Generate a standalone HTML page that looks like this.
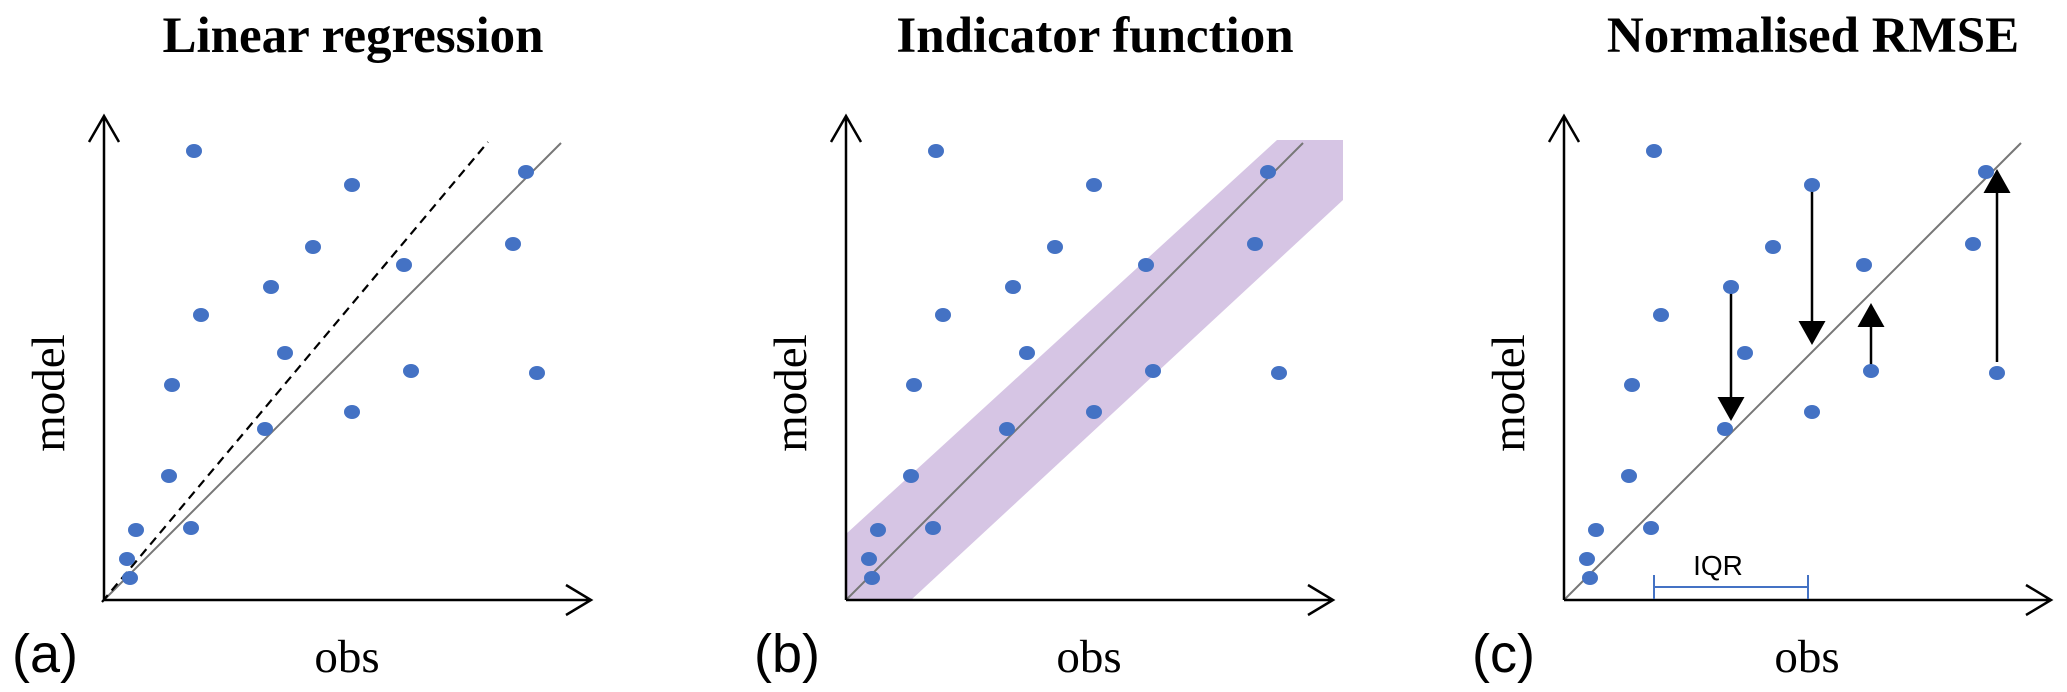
<!DOCTYPE html>
<html><head><meta charset="utf-8"><style>
html,body{margin:0;padding:0;background:#fff;}
svg{display:block;}
.title{font-family:"Liberation Serif",serif;font-weight:bold;font-size:51px;text-anchor:middle;}
.lab{font-family:"Liberation Serif",serif;font-size:47px;text-anchor:middle;}
.plab{font-family:"Liberation Sans",sans-serif;font-size:54px;}
</style></head><body>
<svg id="fig" width="2067" height="692" viewBox="0 0 2067 692" xmlns="http://www.w3.org/2000/svg"></svg>
<script>
const obsValues = [90,248,422,209,300,409,167,97,181,307,433,68,248,161,65,87,32,23,26];
const modelValues = [449,415,428,353,335,356,313,285,247,229,227,215,188,171,124,72,70,41,22];
const panelTitles = ["Linear regression","Indicator function","Normalised RMSE"];
const panelLetters = ["(a)","(b)","(c)"];
const regressionLine = [[-2,-2],[384,458]];
const bandPoly = [[0,0],[0,66],[431,460],[497,460],[497,400],[65,0]];
const iqrRange = [90,244];
const arrowFrom = [[167,309],[248,411],[307,233],[433,238]];
const arrowTo = [[167,179],[248,255],[307,297],[433,431]];

const NS="http://www.w3.org/2000/svg";
const svg=document.getElementById('fig');
const origins=[[104,600],[846,600],[1564,600]];
function mk(tag,attrs,parent){const e=document.createElementNS(NS,tag);for(const k in attrs)e.setAttribute(k,attrs[k]);(parent||svg).appendChild(e);return e;}
function sx(o,v){return o[0]+v;}
function sy(o,v){return o[1]-v;}
const names=["linear-regression","indicator-function","normalised-rmse"];
origins.forEach((o,pi)=>{
  const g=mk('g',{});
  
  
  if(pi===1){
    const band=mk('polygon',{points:bandPoly.map(p=>sx(o,p[0])+','+sy(o,p[1])).join(' '),fill:'#d6c5e4'},g);
    
    
  }
  const ln=mk('line',{x1:sx(o,0),y1:sy(o,0),x2:sx(o,457),y2:sy(o,457),stroke:'#777',"stroke-width":2},g);
  
  
  if(pi===0){
    const d=mk('line',{x1:sx(o,regressionLine[0][0]),y1:sy(o,regressionLine[0][1]),x2:sx(o,regressionLine[1][0]),y2:sy(o,regressionLine[1][1]),stroke:'#000',"stroke-width":2.2,"stroke-dasharray":"9,6"},g);
    
    
  }
  const ax=mk('path',{d:`M${o[0]},${o[1]} H${o[0]+487} M${o[0]+462},${o[1]-15} L${o[0]+487},${o[1]} L${o[0]+462},${o[1]+15} M${o[0]},${o[1]} V${o[1]-484} M${o[0]-15},${o[1]-458} L${o[0]},${o[1]-484} L${o[0]+15},${o[1]-458}`,stroke:'#000',"stroke-width":2.5,fill:'none'},g);
  
  
  if(pi===2){
    const y=sy(o,13);
    const iq=mk('path',{d:`M${sx(o,iqrRange[0])},${y} H${sx(o,iqrRange[1])} M${sx(o,iqrRange[0])},${y-12} V${y+12} M${sx(o,iqrRange[1])},${y-12} V${y+12}`,stroke:'#4472c4',"stroke-width":2,fill:'none'},g);
    
    
    const t=mk('text',{x:sx(o,(iqrRange[0]+iqrRange[1])/2-13),y:sy(o,25),"font-family":"Liberation Sans, sans-serif","font-size":28,"text-anchor":"middle"},g);
    t.textContent='IQR';
    
    
    arrowFrom.forEach((f,i)=>{
      const to=arrowTo[i];const dir=to[1]>f[1]?1:-1;
      const headBase=to[1]-dir*24;
      const a=mk('g',{},g);
      
      
      mk('line',{x1:sx(o,f[0]),y1:sy(o,f[1]),x2:sx(o,f[0]),y2:sy(o,headBase),stroke:'#000',"stroke-width":2.5},a);
      mk('polygon',{points:`${sx(o,to[0]-13.5)},${sy(o,headBase)} ${sx(o,to[0]+13.5)},${sy(o,headBase)} ${sx(o,to[0])},${sy(o,to[1])}`,fill:'#000'},a);
    });
  }
  obsValues.forEach((v,i)=>{
    const c=mk('ellipse',{cx:sx(o,v),cy:sy(o,modelValues[i]),rx:8,ry:7,fill:'#4472c4'},g);
    
    
  });
  const tt=mk('text',{x:o[0]+249,y:52,class:'title'},g);tt.textContent=panelTitles[pi];
  
  
  const xl=mk('text',{x:o[0]+243,y:672,class:'lab'},g);xl.textContent='obs';
  
  
  const yx=o[0]-40,yy=393;
  const yl=mk('text',{x:yx,y:yy,class:'lab',transform:`rotate(-90 ${yx} ${yy})`},g);yl.textContent='model';
  
  
  const pl=mk('text',{x:o[0]-92,y:672,class:'plab'},g);pl.textContent=panelLetters[pi];
  
  
});
</script>
</body></html>
